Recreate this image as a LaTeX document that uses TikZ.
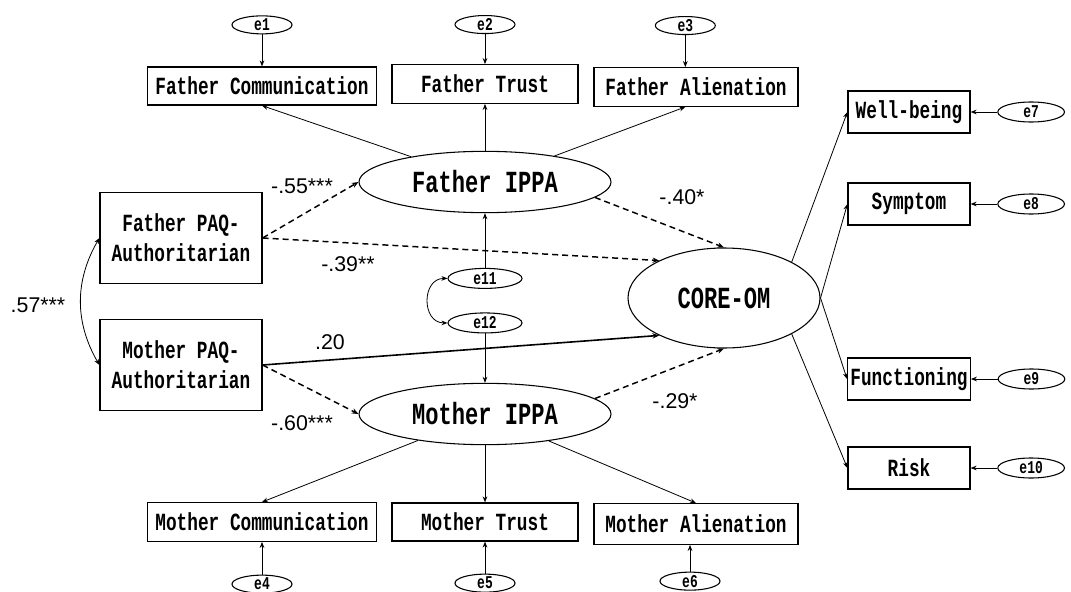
\documentclass[tikz,border=0pt]{standalone}
\usepackage{fontspec}
\setmainfont{Liberation Sans}
\newfontfamily\gothic{Liberation Mono}[FakeStretch=0.72]
\usepackage{tikz}
\usetikzlibrary{positioning}
\usetikzlibrary{shapes.geometric}
\usetikzlibrary{arrows.meta}

\tikzset{
  obsbox/.style={draw, line width=0.9pt, inner sep=0pt, align=center,
    font=\gothic\bfseries\fontsize{18.5}{22.5}\selectfont},
  latent/.style={draw, ellipse, line width=0.8pt, inner sep=0pt,
    font=\gothic\bfseries\fontsize{23}{26}\selectfont},
  err/.style={draw, ellipse, line width=0.8pt, inner sep=0pt,
    minimum width=45pt, minimum height=13.5pt,
    font=\gothic\bfseries\fontsize{13.5}{15}\selectfont},
  path/.style={-{Stealth[length=4.5pt,width=3.5pt]}, line width=0.6pt},
  negpath/.style={-{Stealth[length=5pt,width=4pt]}, line width=1.1pt,
    dash pattern=on 4.5pt off 3pt},
  pospath/.style={-{Stealth[length=5pt,width=4pt]}, line width=1.2pt},
  corr/.style={{Stealth[length=4.5pt,width=3.5pt]}-{Stealth[length=4.5pt,width=3.5pt]}, line width=0.6pt},
  coef/.style={font=\fontsize{16}{18}\selectfont}
}

\begin{document}
\begin{tikzpicture}[x=0.75pt, y=-0.75pt]
    \useasboundingbox (0,0) rectangle (1071,592);

        % Define nodes
        \node[latent, minimum width=189pt, minimum height=46pt] (fippa) at (485,182) {Father IPPA};
        \node[latent, minimum width=189pt, minimum height=46pt] (mippa) at (485,414) {Mother IPPA};
        \node[latent, minimum width=144pt, minimum height=75pt] (core)  at (724,298) {CORE-OM};

        \node[obsbox, minimum width=172pt, minimum height=28.5pt] (fcom) at (262,86) {Father Communication};
        \node[obsbox, minimum width=139.5pt, minimum height=29pt] (ftru) at (485,84) {Father Trust};
        \node[obsbox, minimum width=153pt, minimum height=29pt]   (fali) at (696,87) {Father Alienation};
        \node[obsbox, minimum width=172pt, minimum height=29pt]   (mcom) at (262,522) {Mother Communication};
        \node[obsbox, minimum width=139.5pt, minimum height=28.5pt] (mtru) at (485,522) {Mother Trust};
        \node[obsbox, minimum width=153pt, minimum height=30.5pt] (mali) at (696,524) {Mother Alienation};

        \node[obsbox, minimum width=121.5pt, minimum height=68pt] (fpaq) at (181,238) {Father PAQ-\\Authoritarian};
        \node[obsbox, minimum width=121.5pt, minimum height=68pt] (mpaq) at (181,365) {Mother PAQ-\\Authoritarian};

        \node[obsbox, minimum width=91.5pt, minimum height=31.5pt] (wb)   at (909,112) {Well-being};
        \node[obsbox, minimum width=91.5pt, minimum height=31.5pt] (sym)  at (909,204) {Symptom};
        \node[obsbox, minimum width=92pt, minimum height=31.5pt]   (fun)  at (909,379) {Functioning};
        \node[obsbox, minimum width=91.5pt, minimum height=31.5pt] (risk) at (909,468) {Risk};

        \node[err, above=24pt of fcom]                (e1) {e1};
        \node[err, above=22.5pt of ftru]              (e2) {e2};
        \node[err, above=24pt of fali, xshift=-8pt]   (e3) {e3};
        \node[err, below=24.5pt of mcom]              (e4) {e4};
        \node[err, below=24pt of mtru]                (e5) {e5};
        \node[err, below=20pt of mali, xshift=-4.5pt] (e6) {e6};
        \node[err, minimum width=50pt, minimum height=15pt, right=20pt of wb]   (e7)  {e7};
        \node[err, minimum width=50pt, minimum height=15pt, right=20pt of sym]  (e8)  {e8};
        \node[err, minimum width=50pt, minimum height=15pt, right=20pt of fun]  (e9)  {e9};
        \node[err, minimum width=50pt, minimum height=15pt, right=20pt of risk] (e10) {e10};
        \node[err, minimum width=55.5pt, minimum height=15pt, below=41pt of fippa] (e11) {e11};
        \node[err, minimum width=55.5pt, minimum height=15pt, above=37pt of mippa] (e12) {e12};

        \node[coef] (r57) at (38,305)  {.57***};
        \node[coef] (b55) at (302,186) {-.55***};
        \node[coef] (b39) at (348,264) {-.39**};
        \node[coef] (b40) at (682,197) {-.40*};
        \node[coef] (b20) at (330,342) {.20};
        \node[coef] (b60) at (302,423) {-.60***};
        \node[coef] (b29) at (675,401) {-.29*};

        % Connect the nodes
        \draw[path] (e1) -- (fcom);
        \draw[path] (e2) -- (ftru);
        \draw[path] (e3) -- (e3 |- fali.north);
        \draw[path] (e4) -- (mcom);
        \draw[path] (e5) -- (mtru);
        \draw[path] (e6) -- (e6 |- mali.south);
        \draw[path] (e7) -- (wb);
        \draw[path] (e8) -- (sym);
        \draw[path] (e9) -- (fun);
        \draw[path] (e10) -- (risk);

        \draw[path] (fippa) -- (fcom.south);
        \draw[path] (fippa) -- (ftru.south);
        \draw[path] (fippa) -- (e3 |- fali.south);
        \draw[path] (mippa) -- (mcom.north);
        \draw[path] (mippa) -- (mtru.north);
        \draw[path] (mippa) -- (mali.north);

        \draw[path] (e11) -- (fippa);
        \draw[path] (e12) -- (mippa);
        \draw[corr] (e11.west) to[out=180, in=180, looseness=1.5] (e12.west);
        \draw[corr] (fpaq.west) to[bend right=30] (mpaq.west);

        \draw[negpath] (fpaq.east) -- (fippa.west);
        \draw[negpath] (fpaq.east) -- (core.150);
        \draw[negpath] (fippa.-8) -- (core.north);
        \draw[pospath] (mpaq.east) -- (core.-150);
        \draw[negpath] (mpaq.east) -- (mippa.west);
        \draw[negpath] (mippa.8) -- (core.south);

        \draw[path] (core.28) -- (wb.west);
        \draw[path] (core.east) -- (sym.west);
        \draw[path] (core.east) -- (fun.west);
        \draw[path] (core.-28) -- (risk.west);

\end{tikzpicture}
\end{document}
